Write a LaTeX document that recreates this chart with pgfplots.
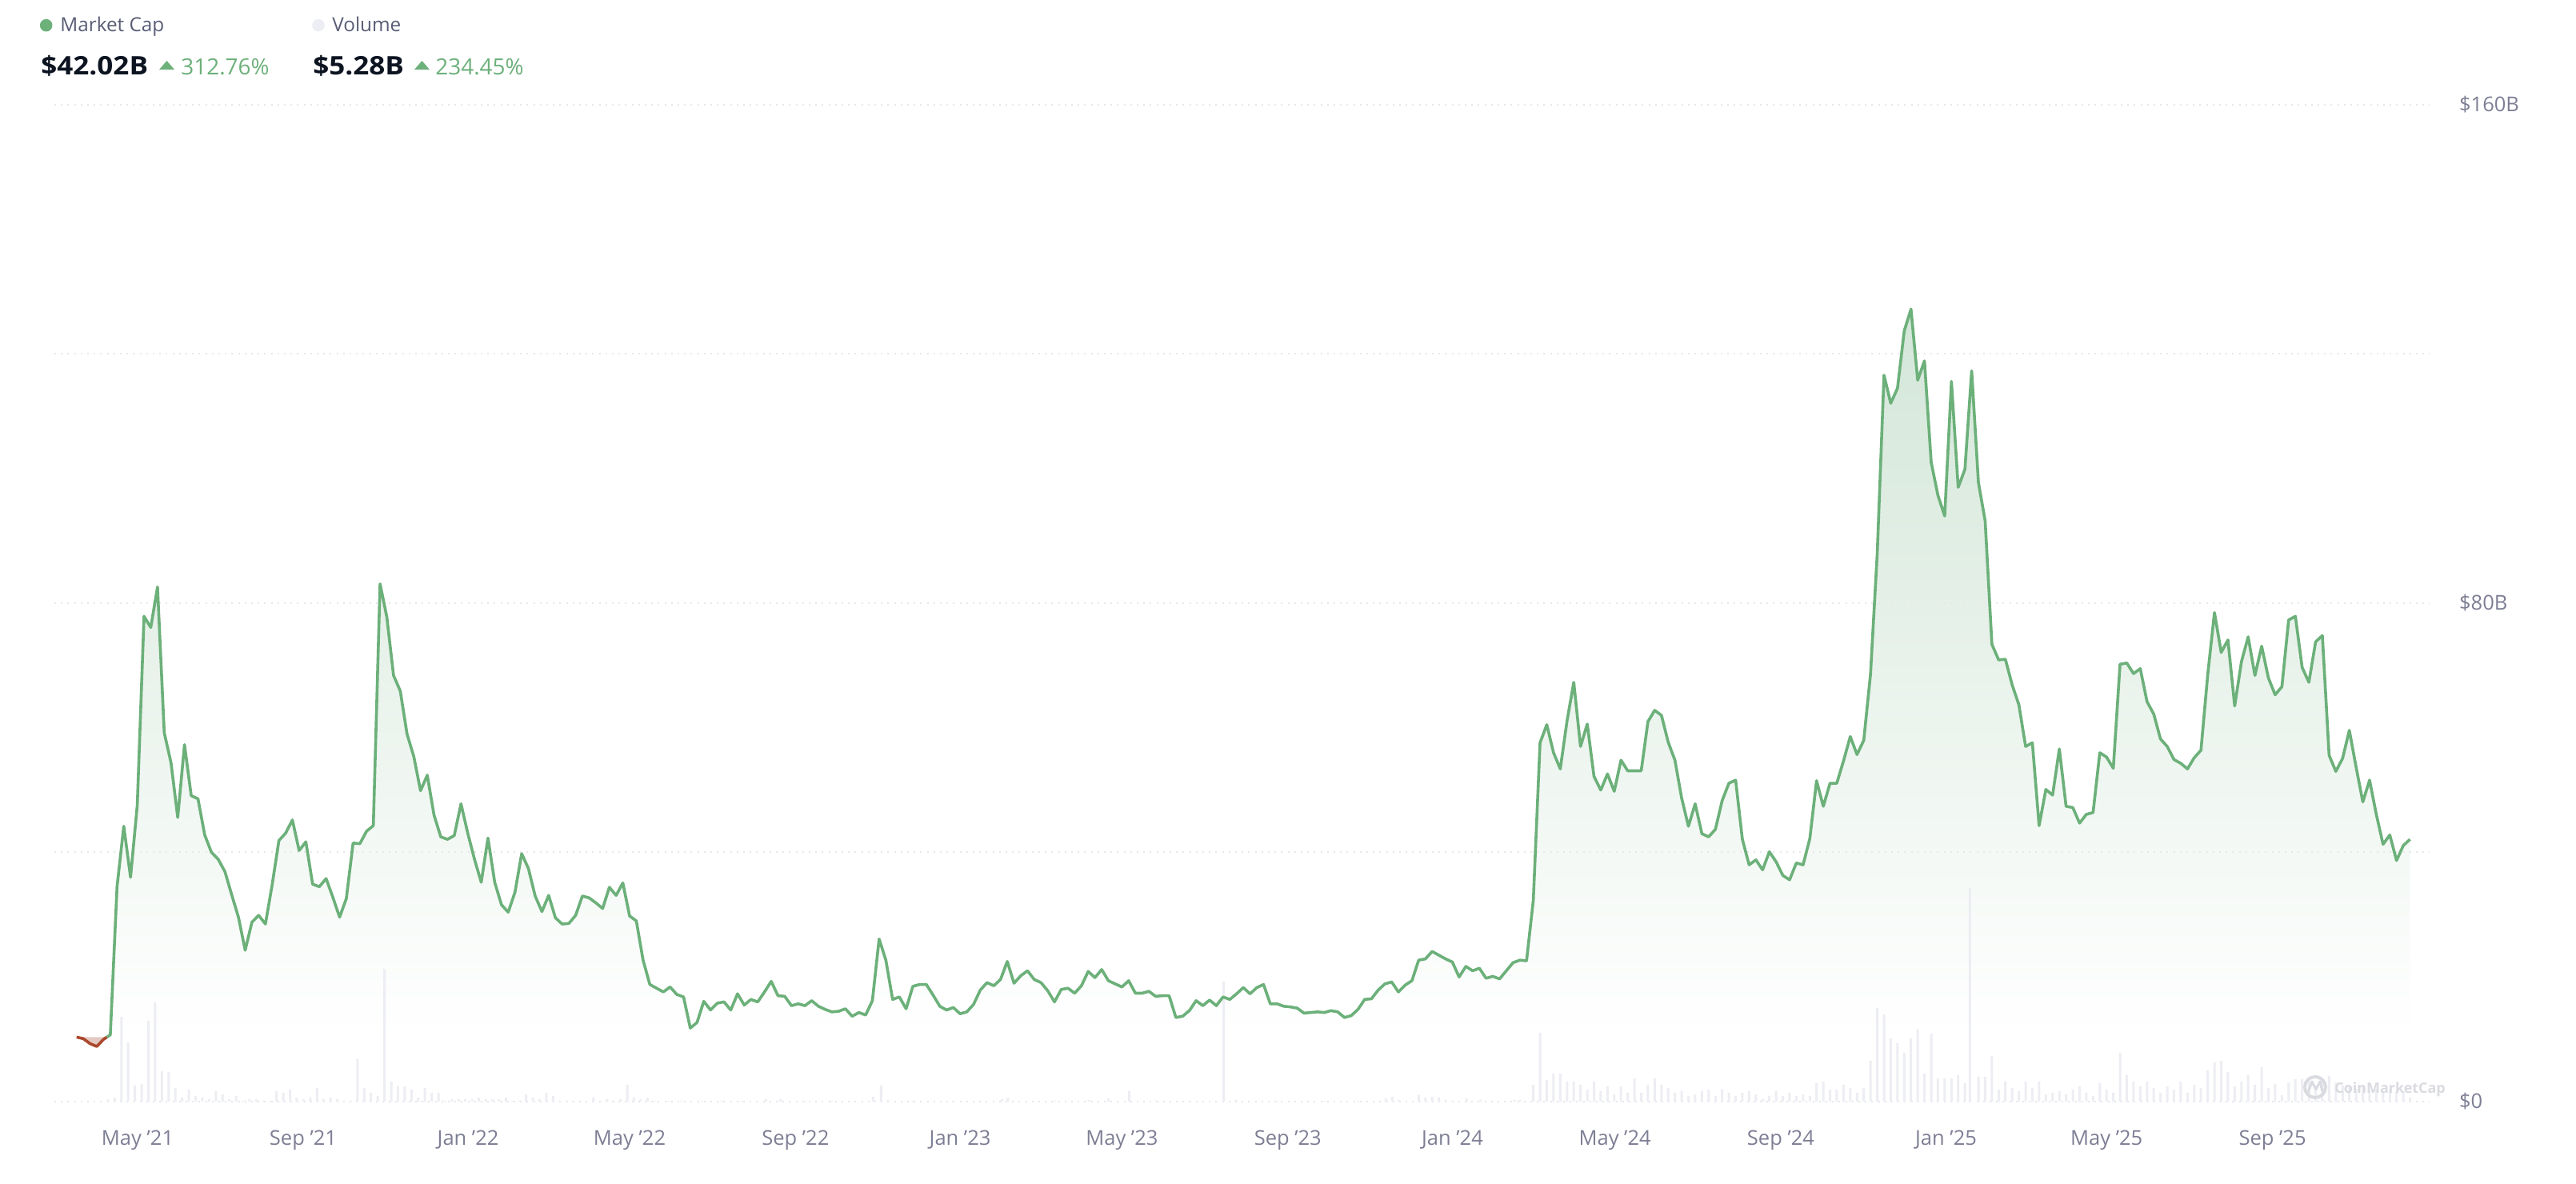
\documentclass[border=0pt]{standalone}
\usepackage{fontspec}
\setmainfont{Open Sans}[Ligatures=ResetAll]
\usepackage{pgfplots}
\usepackage{pgfplotstable}
\pgfplotsset{compat=1.18}
\definecolor{lineG}{HTML}{6CB07A}
\definecolor{lineR}{HTML}{AB482D}
\definecolor{fillR}{HTML}{E3C9C2}
\definecolor{barC}{HTML}{EDEEF3}
\definecolor{gridC}{HTML}{E6E7EB}
\definecolor{tickC}{HTML}{7D7E94}
\definecolor{legC}{HTML}{585C75}
\definecolor{valC}{HTML}{0D1421}
\definecolor{wm}{HTML}{DADBE0}
% white up to the level of the first point (10.35), then to the tint at the peak (127.2)
\pgfdeclareverticalshading{mcapfade}{100bp}{rgb(0bp)=(1,1,1); rgb(29.07bp)=(1,1,1); rgb(75bp)=(0.827,0.902,0.847); rgb(100bp)=(0.827,0.902,0.847)}

\pgfplotstableread[row sep=\\]{
i v\\
4.5 10.35\\ 5 10.7\\ 6 34.5\\ 7 44.2\\ 8 36.0\\ 9 47.6\\ 10 77.9\\ 11 76.1\\ 12 82.6\\ 13 59.2\\
14 54.4\\ 15 45.6\\ 16 57.3\\ 17 49.1\\ 18 48.6\\ 19 42.8\\ 20 40.0\\ 21 38.9\\ 22 36.9\\ 23 33.2\\
24 29.6\\ 25 24.3\\ 26 28.8\\ 27 29.9\\ 28 28.5\\ 29 34.8\\ 30 41.9\\ 31 43.1\\ 32 45.2\\ 33 40.3\\
34 41.7\\ 35 34.9\\ 36 34.5\\ 37 35.8\\ 38 32.8\\ 39 29.6\\ 40 32.6\\ 41 41.5\\ 42 41.4\\ 43 43.4\\
44 44.3\\ 45 83.1\\ 46 77.8\\ 47 68.4\\ 48 65.9\\ 49 59.0\\ 50 55.4\\ 51 49.9\\ 52 52.4\\ 53 46.0\\
54 42.5\\ 55 42.1\\ 56 42.7\\ 57 47.8\\ 58 43.1\\ 59 38.9\\ 60 35.2\\ 61 42.3\\ 62 35.2\\ 63 31.6\\
64 30.4\\ 65 33.6\\ 66 39.8\\ 67 37.4\\ 68 33.0\\ 69 30.5\\ 70 33.1\\ 71 29.5\\ 72 28.5\\ 73 28.6\\
74 29.9\\ 75 33.0\\ 76 32.7\\ 77 31.9\\ 78 31.0\\ 79 34.4\\ 80 33.1\\ 81 35.1\\ 82 29.8\\ 83 29.0\\
84 22.7\\ 85 18.8\\ 86 18.2\\ 87 17.6\\ 88 18.4\\ 89 17.2\\ 90 16.8\\ 91 11.8\\ 92 12.7\\ 93 16.1\\
94 14.7\\ 95 15.8\\ 96 16.0\\ 97 14.7\\ 98 17.3\\ 99 15.5\\ 100 16.4\\ 101 16.0\\ 102 17.6\\ 103 19.3\\
104 17.0\\ 105 16.9\\ 106 15.4\\ 107 15.7\\ 108 15.4\\ 109 16.2\\ 110 15.3\\ 111 14.8\\ 112 14.4\\ 113 14.5\\
114 14.9\\ 115 13.7\\ 116 14.3\\ 117 13.9\\ 118 16.2\\ 119 26.1\\ 120 22.7\\ 121 16.4\\ 122 16.8\\ 123 14.9\\
124 18.5\\ 125 18.8\\ 126 18.8\\ 127 17.1\\ 128 15.3\\ 129 14.7\\ 130 15.1\\ 131 14.1\\ 132 14.4\\ 133 15.6\\
134 17.9\\ 135 19.1\\ 136 18.6\\ 137 19.6\\ 138 22.5\\ 139 19.0\\ 140 20.2\\ 141 21.0\\ 142 19.6\\ 143 19.1\\
144 17.8\\ 145 16.0\\ 146 18.0\\ 147 18.2\\ 148 17.4\\ 149 18.6\\ 150 20.9\\ 151 19.9\\ 152 21.2\\ 153 19.4\\
154 18.9\\ 155 18.4\\ 156 19.4\\ 157 17.4\\ 158 17.4\\ 159 17.7\\ 160 16.9\\ 161 17.0\\ 162 17.0\\ 163 13.5\\
164 13.7\\ 165 14.6\\ 166 16.2\\ 167 15.4\\ 168 16.3\\ 169 15.4\\ 170 16.8\\ 171 16.4\\ 172 17.3\\ 173 18.3\\
174 17.3\\ 175 18.3\\ 176 18.8\\ 177 15.7\\ 178 15.7\\ 179 15.3\\ 180 15.2\\ 181 15.0\\ 182 14.2\\ 183 14.3\\
184 14.4\\ 185 14.3\\ 186 14.6\\ 187 14.4\\ 188 13.5\\ 189 13.8\\ 190 14.8\\ 191 16.4\\ 192 16.5\\ 193 17.9\\
194 18.9\\ 195 19.2\\ 196 17.6\\ 197 18.7\\ 198 19.4\\ 199 22.7\\ 200 22.9\\ 201 24.1\\ 202 23.5\\ 203 22.9\\
204 22.4\\ 205 20.0\\ 206 21.7\\ 207 21.0\\ 208 21.4\\ 209 19.8\\ 210 20.1\\ 211 19.7\\ 212 21.0\\ 213 22.3\\
214 22.7\\ 215 22.6\\ 216 32.3\\ 217 57.6\\ 218 60.5\\ 219 56.0\\ 220 53.4\\ 221 61.1\\ 222 67.3\\ 223 57.0\\
224 60.6\\ 225 52.2\\ 226 50.0\\ 227 52.6\\ 228 49.8\\ 229 54.8\\ 230 53.1\\ 231 53.1\\ 232 53.1\\ 233 61.0\\
234 62.8\\ 235 62.0\\ 236 57.7\\ 237 54.8\\ 238 48.7\\ 239 44.2\\ 240 47.8\\ 241 43.0\\ 242 42.5\\ 243 43.7\\
244 48.3\\ 245 51.1\\ 246 51.6\\ 247 42.1\\ 248 38.0\\ 249 38.8\\ 250 37.2\\ 251 40.1\\ 252 38.5\\ 253 36.3\\
254 35.6\\ 255 38.3\\ 256 38.0\\ 257 42.2\\ 258 51.5\\ 259 47.4\\ 260 51.1\\ 261 51.1\\ 262 54.7\\ 263 58.6\\
264 55.7\\ 265 58.0\\ 266 68.6\\ 267 88.0\\ 268 116.6\\ 269 112.1\\ 270 114.5\\ 271 123.7\\ 272 127.2\\ 273 115.8\\
274 118.9\\ 275 102.6\\ 276 97.3\\ 277 94.0\\ 278 115.6\\ 279 98.6\\ 280 101.5\\ 281 117.3\\ 282 99.4\\ 283 93.2\\
284 73.4\\ 285 70.9\\ 286 71.0\\ 287 66.9\\ 288 63.7\\ 289 57.0\\ 290 57.6\\ 291 44.3\\ 292 50.1\\ 293 49.2\\
294 56.6\\ 295 47.4\\ 296 47.2\\ 297 44.7\\ 298 46.1\\ 299 46.4\\ 300 56.0\\ 301 55.3\\ 302 53.5\\ 303 70.2\\
304 70.4\\ 305 68.7\\ 306 69.5\\ 307 64.2\\ 308 62.2\\ 309 58.2\\ 310 57.0\\ 311 54.9\\ 312 54.3\\ 313 53.4\\
314 55.2\\ 315 56.4\\ 316 68.5\\ 317 78.5\\ 318 72.1\\ 319 74.1\\ 320 63.5\\ 321 70.6\\ 322 74.6\\ 323 68.4\\
324 73.1\\ 325 68.0\\ 326 65.3\\ 327 66.6\\ 328 77.3\\ 329 77.9\\ 330 69.7\\ 331 67.3\\ 332 73.8\\ 333 74.8\\
334 55.6\\ 335 53.0\\ 336 55.1\\ 337 59.6\\ 338 53.7\\ 339 48.1\\ 340 51.6\\ 341 46.1\\ 342 41.3\\ 343 42.8\\
344 38.7\\ 345 41.1\\ 346 42.1\\
}\mcapgreen

% volume: heights on the price scale's pixels (7.7875 px per $1B)
\pgfplotstableread[row sep=\\]{
x h\\
4.65 2.7\\ 5.65 4.7\\ 6.65 106\\ 7.65 74\\ 8.65 20\\ 9.65 22\\ 10.65 101\\ 11.65 124\\ 12.65 38\\ 13.65 37\\
14.65 17\\ 15.65 5\\ 16.65 15\\ 17.65 7\\ 18.65 5\\ 19.65 3\\ 20.65 13\\ 21.65 9\\ 22.65 3\\ 23.65 7\\
24.65 1\\ 25.65 3\\ 26.65 3\\ 27.65 1\\ 28.65 1\\ 29.65 13\\ 30.65 11\\ 31.65 15\\ 32.65 5\\ 33.65 3\\
34.65 5\\ 35.65 17\\ 36.65 3\\ 37.65 5\\ 38.65 3\\ 39.65 1\\ 40.65 1\\ 41.65 53\\ 42.65 17\\ 43.65 11\\
44.65 7\\ 45.65 166\\ 46.65 25\\ 47.65 19\\ 48.65 19\\ 49.65 15\\ 50.65 5\\ 51.65 17\\ 52.65 11\\ 53.65 11\\
54.65 1\\ 55.65 3\\ 56.65 3\\ 57.65 3\\ 58.65 3\\ 59.65 5\\ 60.65 3\\ 61.65 3\\ 62.65 3\\ 63.65 5\\
64.65 1\\ 65.65 1\\ 66.65 9\\ 67.65 5\\ 68.65 3\\ 69.65 11\\ 70.65 7\\ 71.65 1\\ 72.65 1\\ 73.65 1\\
74.65 1\\ 76.65 5\\ 77.65 1\\ 78.65 3\\ 79.65 1\\ 80.65 3\\ 81.65 21\\ 82.65 5\\ 83.65 3\\ 84.65 5\\
85.7 1\\ 87.7 1\\ 89.7 1\\ 92.7 1\\ 95.7 1\\ 98.7 1\\ 102.2 3\\ 104.4 3\\ 108 1\\ 112 1\\
118.1 6\\ 119.3 20\\ 120.3 2\\ 124 1\\ 130 1\\ 137.2 3\\ 138.1 5\\ 145 1\\ 150.1 2\\ 153 4\\
156.1 13\\ 160 1\\ 165 1\\ 170.1 150\\ 171.9 2\\ 178 1\\ 185 1\\ 190 1\\ 194.1 4\\ 195.1 6\\
196 2\\ 199 8\\ 200 5\\ 201 6\\ 202 5\\ 203 2\\ 204 1\\ 206.1 4\\ 208.2 2\\ 213.2 2\\
214 2\\ 216 21\\ 217 86\\ 218 27\\ 219 35\\ 220 35\\ 221 25\\ 222 25\\ 223 21\\ 224 15\\
225 25\\ 226 13\\ 227 19\\ 228 9\\ 229 19\\ 230 11\\ 231 29\\ 232 11\\ 233 21\\ 234 29\\
235 21\\ 236 17\\ 237 11\\ 238 13\\ 239 7\\ 240 9\\ 241 13\\ 242 15\\ 243 7\\ 244 15\\
245 11\\ 246 7\\ 247 11\\ 248 13\\ 249 9\\ 250 3\\ 251 7\\ 252 13\\ 253 7\\ 254 11\\
255 7\\ 256 9\\ 257 7\\ 258 23\\ 259 25\\ 260 15\\ 261 15\\ 262 21\\ 263 17\\ 264 11\\
265 17\\ 266 51\\ 267 117\\ 268 109\\ 269 79\\ 270 73\\ 271 61\\ 272 79\\ 273 90\\ 274 35\\
275 85\\ 276 29\\ 277 29\\ 278 29\\ 279 33\\ 280 23\\ 280.75 267\\ 282 31\\ 283 31\\ 284 57\\
285 15\\ 286 25\\ 287 17\\ 288 13\\ 289 25\\ 290 17\\ 291 25\\ 292 9\\ 293 11\\ 294 13\\
295 9\\ 296 15\\ 297 19\\ 298 11\\ 299 7\\ 300 23\\ 301 15\\ 302 11\\ 303 61\\ 304 33\\
305 25\\ 306 19\\ 307 25\\ 308 17\\ 309 11\\ 310 19\\ 311 15\\ 312 25\\ 313 11\\ 314 21\\
315 17\\ 316 39\\ 317 49\\ 318 51\\ 319 37\\ 320 19\\ 321 25\\ 322 33\\ 323 21\\ 324 43\\
325 17\\ 326 22\\ 327 8\\ 328 24\\ 329 28\\ 330 28\\ 331 25\\ 332 20\\ 333 25\\ 334 32\\
335 24\\ 336 20\\ 337 18\\ 338 16\\ 339 18\\ 340 14\\ 341 16\\ 342 13\\ 343 15\\ 344 12\\
345 13\\ 346 5\\
}\volume

\begin{document}
\begin{tikzpicture}
\path (0,0) rectangle (1610bp,740bp);
\begin{axis}[
  at={(34bp,51.5bp)}, anchor=south west,
  scale only axis, width=1484.5bp, height=623bp,
  set layers,
  xmin=-3.29, xmax=348.91, ymin=0, ymax=160,
  axis line style={draw=none},
  major tick length=0pt,
  tick style={draw=none},
  clip=false,
  xtick={9.05,33.6,58.05,82,106.6,131,155,179.6,204,228.1,252.7,277.2,301,325.6},
  xticklabels={May '21,Sep '21,Jan '22,May '22,Sep '22,Jan '23,May '23,Sep '23,Jan '24,May '24,Sep '24,Jan '25,May '25,Sep '25},
  xticklabel style={font=\fontsize{12.8}{14}\selectfont, text=tickC, anchor=center, yshift=-24bp},
  ytick={0,40,80,120,160},
  yticklabels={\$0,,\$80B,,\$160B},
  yticklabel pos=right,
  yticklabel style={font=\fontsize{12.8}{14}\selectfont, text=tickC, anchor=west, xshift=15bp},
  ymajorgrids,
  grid style={gridC, line width=1bp, dash pattern=on 1bp off 3.1bp},
]
\addplot[on layer=axis background, draw=none, shade, shading=mcapfade] table[x=i,y=v] {\mcapgreen} \closedcycle;
\addplot[draw=none, fill=fillR] coordinates {(0,10.35)(1,10.1)(2,9.3)(3,8.85)(4,10.0)(4.5,10.35)} -- cycle;
\addplot[ybar, bar width=1.5bp, bar shift=0pt, fill=barC, draw=none] table[x=x, y expr=\thisrow{h}/7.7875] {\volume};
\addplot[lineR, line width=1.8bp, line join=round] coordinates {(0,10.35)(1,10.1)(2,9.3)(3,8.85)(4,10.0)(4.5,10.35)};
\addplot[lineG, line width=1.8bp, line join=round] table[x=i,y=v] {\mcapgreen};
\end{axis}
\begin{scope}[x=0.5bp,y=-0.5bp,shift={(0bp,740bp)}]
  % header
  \fill[lineG] (57.7,31.7) circle (7.8);
  \node[anchor=base west, inner sep=0pt, text=legC, font=\fontsize{12.2}{14}\selectfont] at (75,40) {Market Cap};
  \fill[barC] (398,31.7) circle (7.8);
  \node[anchor=base west, inner sep=0pt, text=legC, font=\fontsize{12.2}{14}\selectfont] at (415,40) {Volume};
  \node[anchor=base west, inner sep=0pt, text=valC, font=\fontsize{16}{18}\selectfont\bfseries] at (51,94) {\scalebox{1.1}[1]{\$42.02B}};
  \fill[lineG] (199,87)--(218,87)--(208.5,76)--cycle;
  \node[anchor=base west, inner sep=0pt, text=lineG, font=\fontsize{14}{16}\selectfont] at (226,94) {312.76\%};
  \node[anchor=base west, inner sep=0pt, text=valC, font=\fontsize{16}{18}\selectfont\bfseries] at (391,94) {\scalebox{1.1}[1]{\$5.28B}};
  \fill[lineG] (518,87)--(537,87)--(527.5,76)--cycle;
  \node[anchor=base west, inner sep=0pt, text=lineG, font=\fontsize{14}{16}\selectfont] at (544,94) {234.45\%};
  % watermark
  \draw[wm, line width=2bp] (2894,1359) circle (13);
  \draw[wm, line width=1.5bp, line join=round] (2885,1366)--(2890,1352)--(2895,1362)--(2900,1352)--(2903,1364);
  \node[anchor=base west, inner sep=0pt, text=wm, font=\fontsize{9}{11}\selectfont\bfseries] at (2918,1367) {CoinMarketCap};
\end{scope}
\end{tikzpicture}
\end{document}
